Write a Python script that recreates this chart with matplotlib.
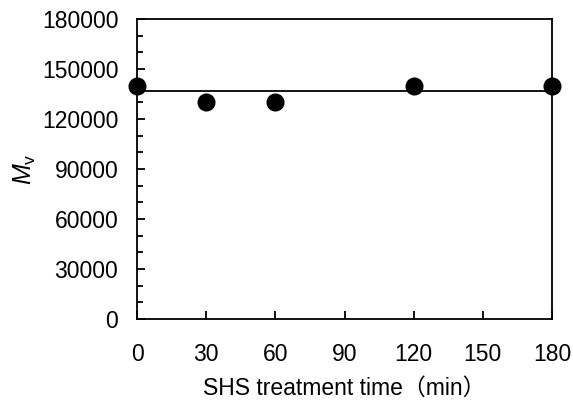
import numpy as np
import matplotlib
matplotlib.use("Agg")
import matplotlib.pyplot as plt
from matplotlib.ticker import MultipleLocator

plt.rcParams["font.family"] = ["Liberation Sans", "Noto Sans CJK JP"]
plt.rcParams["mathtext.fontset"] = "custom"
plt.rcParams["mathtext.rm"] = "Liberation Sans"
plt.rcParams["mathtext.it"] = "Liberation Sans:italic"

# data
time_min = [0, 30, 60, 120, 180]
mv = [140000, 130000, 130000, 140000, 140000]
mean_level = 137000

fig = plt.figure(figsize=(5.73, 4.04), dpi=100)
ax = fig.add_axes([137 / 573, 1 - 319 / 404, (552 - 137) / 573, (319 - 19) / 404])

ax.plot([time_min[0], time_min[-1]], [mean_level, mean_level], color="black", lw=1.3)
ax.plot(time_min, mv, "o", color="black", ms=12, clip_on=False, zorder=5)

ax.set_xlim(0, 180)
ax.set_ylim(0, 180000)
ax.xaxis.set_major_locator(MultipleLocator(30))
ax.yaxis.set_major_locator(MultipleLocator(30000))
ax.yaxis.set_minor_locator(MultipleLocator(10000))

ax.tick_params(axis="both", which="major", direction="in", length=6, width=1.3,
               labelsize=16.5)
ax.tick_params(axis="y", which="major", pad=13.5)
ax.tick_params(axis="x", which="major", pad=17)
ax.tick_params(axis="y", which="minor", direction="in", length=4, width=1.3)
for sp in ax.spines.values():
    sp.set_linewidth(1.3)

ax.set_xlabel("SHS treatment time（min）", fontsize=16.5, labelpad=8)
ax.set_ylabel(r"$M_{\mathrm{v}}$", fontsize=18, labelpad=3)

fig.savefig("out.png", dpi=100)
